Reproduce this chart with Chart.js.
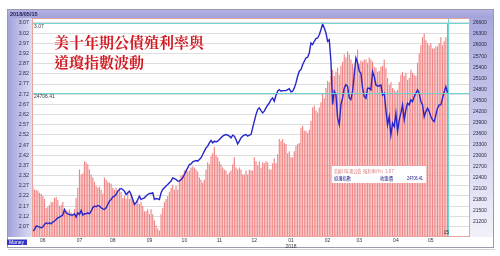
<!DOCTYPE html>
<html>
<head>
<meta charset="utf-8">
<script src="https://cdn.jsdelivr.net/npm/chart.js@4"></script>
<style>
html,body{margin:0;padding:0;background:#fff;}
#wrap{position:relative;width:500px;height:256px;}
</style>
</head>
<body>
<div id="wrap"><canvas id="c" width="500" height="256"></canvas></div>
<script>
// ---- data (daily, ~May 2017 .. 2018/05/15) ----
const yieldValues = [
2.265,2.25,2.25,2.245,2.235,2.23,2.22,2.205,2.16,2.165,2.175,2.19,2.19,2.21,2.215,2.20,2.17,2.175,2.19,2.155,
2.15,2.145,2.155,2.14,2.13,2.155,2.21,2.26,2.35,2.325,2.33,2.39,2.385,2.375,2.35,2.325,2.31,2.29,2.27,2.26,
2.265,2.25,2.23,2.31,2.30,2.29,2.285,2.28,2.26,2.25,2.26,2.245,2.26,2.24,2.21,2.22,2.205,2.24,2.205,2.23,
2.20,2.19,2.18,2.205,2.18,2.19,2.17,2.145,2.145,2.155,2.13,2.155,2.13,2.10,2.075,2.06,2.05,2.13,2.16,2.19,
2.205,2.22,2.24,2.26,2.275,2.25,2.27,2.25,2.30,2.32,2.325,2.345,2.35,2.34,2.345,2.36,2.365,2.36,2.35,2.34,
2.31,2.30,2.285,2.30,2.35,2.385,2.375,2.415,2.43,2.46,2.42,2.41,2.39,2.375,2.36,2.35,2.345,2.325,2.335,2.345,
2.375,2.41,2.36,2.35,2.36,2.35,2.325,2.325,2.345,2.325,2.35,
2.345,2.345,2.41,2.39,2.37,2.39,2.36,2.385,2.38,2.39,2.385,2.35,2.35,2.38,2.405,2.38,2.425,2.50,2.49,2.50,
2.48,2.475,2.43,2.44,2.41,2.41,2.44,2.465,2.475,2.48,2.555,2.565,2.54,2.54,2.53,2.545,2.59,2.655,2.665,2.64,
2.63,2.655,2.68,2.725,2.70,2.75,2.785,2.78,2.81,2.84,2.81,2.83,2.85,2.815,2.86,2.88,2.915,2.90,2.93,2.915,
2.89,2.87,2.85,2.875,2.94,2.87,
2.885,2.88,2.89,2.89,2.875,2.90,2.89,2.88,2.855,2.85,2.83,2.835,2.855,2.86,2.89,2.85,2.80,2.765,2.78,2.75,
2.74,2.735,2.74,2.78,2.815,2.83,2.81,2.825,2.79,2.80,2.84,2.825,2.815,2.81,2.875,2.92,2.96,3.00,3.02,2.985,
2.97,2.96,2.97,2.945,2.945,2.955,2.955,2.97,3.00,2.96,2.98,3.00,3.07
];
const dowValues = [
20947,20990,21082,21072,21055,21036,21055,21126,21172,21145,21172,21145,21191,21218,21262,21308,21327,21354,21381,21533,
21443,21416,21397,21381,21381,21416,21327,21443,21397,21506,21381,21416,21416,21443,21416,21490,21579,21625,21606,21642,
21625,21579,21552,21533,21579,21669,21761,21804,21869,21897,21940,22032,22076,22103,22076,22032,21940,21986,22032,21940,
21804,21669,21715,21804,21897,21804,21831,21850,21897,21940,21967,21967,21986,21804,21831,21823,21804,21986,22076,22122,
22168,22211,22258,22304,22393,22374,22347,22304,22304,22347,22393,22483,22575,22665,22754,22773,22828,22847,22863,22847,
22890,22936,23026,23118,23207,23254,23343,23406,23343,23389,23370,23389,23433,23479,23525,23552,23568,23552,23525,23479,
23552,23525,23433,23316,23389,23479,23525,23552,23568,23525,23552,
23568,23750,23932,24111,24247,24293,24220,24157,24204,24293,24366,24429,24518,24564,24475,24638,24746,24790,24746,24763,
24763,24763,24790,24817,24727,24746,24836,24972,25153,25289,25333,25468,25561,25650,25669,25786,26057,26011,26103,26174,
26193,26282,26418,26573,26464,26329,26103,26147,25561,24383,24746,24654,24022,23840,24383,24564,24836,24925,24882,24564,
24518,24746,25197,25650,25514,25289,
25235,24828,24600,24556,24828,24828,24782,25278,25143,24917,24890,24890,24917,24646,24692,24239,23832,24057,23560,23878,
23786,24149,23650,23967,24149,24375,23967,24239,24421,24375,24510,24464,24600,24692,24782,24692,24464,24375,24057,24193,
24285,24193,24057,23967,23921,24103,24285,24375,24375,24556,24735,24871,24706.41
];
const monthLabels = ['06','07','08','09','10','11','12',['01','2018'],'02','03','04','05'];
const monthStarts = [6,28,48,70,91,112,133,155,177,196,218,239];
const leftTicks = [2.07,2.12,2.17,2.22,2.27,2.32,2.37,2.42,2.47,2.52,2.57,2.62,2.67,2.72,2.77,2.82,2.87,2.92,2.97,3.02,3.07];
const rightTicks = [21200,21500,21800,22100,22400,22700,23000,23300,23600,23900,24200,24500,24800,25100,25400,25700,26000,26300,26600];
const headerDate = '2018/05/15';
const lastDayLabel = '15';
const titleLines = ['美十年期公債殖利率與','道瓊指數波動'];
const legendRow1 = ['美國10年期公債','殖利率(%)','3.07'];
const legendRow2 = ['道瓊指數','收盤價','24706.41'];
const padCount = 13;

// ---- categories ----
const categories = [];
for (let i = 0; i < yieldValues.length + padCount; i++) categories.push('');
monthStarts.forEach((idx, k) => { categories[idx] = monthLabels[k]; });
const barData = yieldValues.slice();
const lineData = dowValues.slice();
const lastIdx = yieldValues.length - 1;
const lastYield = yieldValues[lastIdx];
const lastDow = dowValues[lastIdx];

const NUMF = '"Liberation Sans", Arial, sans-serif';
const CJKF = '"Noto Sans CJK TC","Noto Sans CJK SC",sans-serif';

function fitText(ctx, txt, x, y, maxW) {
  const w = ctx.measureText(txt).width;
  if (w <= maxW) { ctx.fillText(txt, x, y); return; }
  ctx.save();
  ctx.translate(x, y);
  ctx.scale(maxW / w, 1);
  ctx.fillText(txt, 0, 0);
  ctx.restore();
}

const framePlugin = {
  id: 'frame',
  beforeDraw(chart) {
    const ctx = chart.ctx;
    const a = chart.chartArea;
    ctx.save();
    ctx.fillStyle = '#ffffff';
    ctx.fillRect(0, 0, chart.width, chart.height);
    let g = ctx.createLinearGradient(0, 9, 0, a.top);
    g.addColorStop(0, '#b4b4e6'); g.addColorStop(1, '#a2a2da');
    ctx.fillStyle = g;
    ctx.fillRect(7, 9, 487, a.top - 9);
    g = ctx.createLinearGradient(7, 0, a.left, 0);
    g.addColorStop(0, '#a0a0da'); g.addColorStop(1, '#dcdcf4');
    ctx.fillStyle = g;
    ctx.fillRect(7, a.top, a.left - 7, a.bottom - a.top);
    g = ctx.createLinearGradient(0, a.top, 0, a.bottom);
    g.addColorStop(0, '#a8a8de'); g.addColorStop(1, '#f2f2fb');
    ctx.fillStyle = g;
    ctx.fillRect(a.right, a.top, 494 - a.right, a.bottom - a.top);
    ctx.strokeStyle = '#9a9aa8';
    ctx.lineWidth = 1;
    ctx.strokeRect(7.5, 9.5, 486, 238);
    ctx.strokeStyle = '#d0d0d8';
    ctx.beginPath(); ctx.moveTo(8, 249.5); ctx.lineTo(495, 249.5); ctx.stroke();
    ctx.fillStyle = '#1e1e50';
    ctx.font = 'bold 5.5px ' + NUMF;
    ctx.textBaseline = 'middle';
    ctx.textAlign = 'left';
    ctx.fillText(headerDate, 10, 14);
    ctx.fillStyle = '#3434c4';
    ctx.fillRect(7, 239.5, 20, 5.5);
    ctx.fillStyle = '#ffffff';
    ctx.font = '5px ' + NUMF;
    ctx.fillText('Money', 9, 242.4);
    ctx.restore();
  },
  afterDatasetsDraw(chart) {
    const ctx = chart.ctx;
    const a = chart.chartArea;
    const xs = chart.scales.x, yl = chart.scales.yL, yr = chart.scales.yR;
    const xLast = Math.round(xs.getPixelForValue(lastIdx)) + 0.5;
    const yY = Math.round(yl.getPixelForValue(lastYield)) + 0.5;
    const yD = Math.round(yr.getPixelForValue(lastDow)) + 0.5;
    ctx.save();
    ctx.strokeStyle = '#6fd6d2';
    ctx.lineWidth = 1;
    ctx.beginPath();
    ctx.moveTo(a.left, yY); ctx.lineTo(a.right, yY);
    ctx.moveTo(a.left, yD); ctx.lineTo(a.right, yD);
    ctx.moveTo(xLast, a.top); ctx.lineTo(xLast, a.bottom);
    ctx.stroke();
    ctx.fillStyle = '#333344';
    ctx.font = '5px ' + NUMF;
    ctx.textAlign = 'left';
    ctx.textBaseline = 'middle';
    ctx.fillText(lastYield.toFixed(2), a.left + 2, yY + 3);
    ctx.fillText(lastDow.toFixed(2), a.left + 2, yD + 3);
    ctx.fillText(lastDayLabel, xLast - 5, a.bottom - 4);
    ctx.strokeStyle = '#e6a49c';
    ctx.strokeRect(a.left + 0.5, a.top + 0.5, a.right - a.left - 1, a.bottom - a.top - 1);
    // legend box
    ctx.fillStyle = '#ffffff';
    ctx.fillRect(332, 166, 94, 17);
    ctx.font = '4.6px ' + CJKF;
    ctx.fillStyle = '#e07a7a';
    fitText(ctx, legendRow1[0], 334, 171, 27);
    fitText(ctx, legendRow1[1], 363, 171, 20);
    fitText(ctx, legendRow1[2], 385, 171, 9);
    ctx.fillStyle = '#141480';
    fitText(ctx, legendRow2[0], 334, 178.5, 17);
    fitText(ctx, legendRow2[1], 380, 178.5, 13);
    ctx.font = '4.8px ' + NUMF;
    fitText(ctx, legendRow2[2], 407, 178.5, 16);
    // title
    ctx.fillStyle = '#d21a22';
    ctx.font = 'bold 15px "Noto Serif CJK TC","Noto Serif CJK SC",' + CJKF;
    ctx.textBaseline = 'middle';
    ctx.fillText(titleLines[0], 54, 42.5);
    ctx.fillText(titleLines[1], 54, 62.5);
    ctx.restore();
  }
};

new Chart(document.getElementById('c'), {
  data: {
    labels: categories,
    datasets: [
      { type: 'line', data: lineData, yAxisID: 'yR', borderColor: '#2626cc', borderWidth: 1.4,
        pointRadius: 0, tension: 0, order: 0, spanGaps: false },
      { type: 'bar', data: barData, yAxisID: 'yL', backgroundColor: 'rgb(240,132,132)',
        borderWidth: 0, categoryPercentage: 1, barPercentage: 0.68, order: 1 }
    ]
  },
  options: {
    responsive: false,
    animation: false,
    events: [],
    layout: { padding: { left: 0, right: 0, top: 18, bottom: 0 } },
    plugins: { legend: { display: false }, tooltip: { enabled: false }, title: { display: false } },
    scales: {
      x: {
        type: 'category',
        offset: true,
        grid: { display: false, drawTicks: false },
        border: { display: false },
        ticks: { autoSkip: false, maxRotation: 0, minRotation: 0, padding: 1,
                 color: '#333340', font: { size: 5, family: NUMF } },
        afterFit(s) { s.height = 19; }
      },
      yL: {
        type: 'linear', position: 'left', min: 2.018, max: 3.0945,
        grid: { color: '#dedede', drawTicks: false, lineWidth: 1 },
        border: { display: false },
        afterBuildTicks(s) { s.ticks = leftTicks.map(v => ({ value: v })); },
        ticks: { padding: 3, color: '#2a2a44', font: { size: 5.3, family: NUMF },
                 callback: v => Number(v).toFixed(2) },
        afterFit(s) { s.width = 32; }
      },
      yR: {
        type: 'linear', position: 'right', min: 20785, max: 26736,
        grid: { display: false, drawTicks: false },
        border: { display: false },
        afterBuildTicks(s) { s.ticks = rightTicks.map(v => ({ value: v })); },
        ticks: { padding: 3, color: '#2a2a44', font: { size: 5, family: NUMF },
                 callback: v => String(v) },
        afterFit(s) { s.width = 30; }
      }
    }
  },
  plugins: [framePlugin]
});
</script>
</body>
</html>
